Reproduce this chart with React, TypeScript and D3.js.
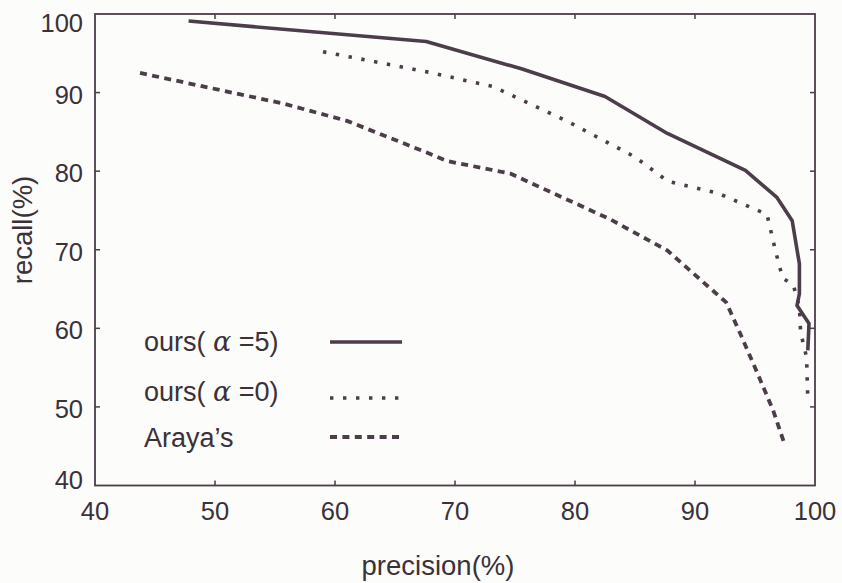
import React from 'react'
import * as d3 from 'd3'

// precision (%), recall (%)
const oursAlpha5 = [
  [47.8, 99.1], [67.6, 96.5], [75.6, 93.0], [82.5, 89.5], [87.7, 84.8],
  [94.2, 80.1], [96.8, 76.7], [98.1, 73.7], [98.7, 68.2], [98.7, 64.4],
  [98.5, 62.9], [99.5, 60.6], [99.4, 57.2],
]
const oursAlpha0 = [
  [59.0, 95.2], [67.8, 92.6], [73.2, 90.75], [79.3, 86.4], [85.0, 81.8],
  [87.75, 78.7], [91.9, 77.2], [96.0, 74.5], [96.7, 69.9], [97.3, 66.4],
  [98.2, 65.5], [98.7, 62.7], [98.8, 59.5], [99.3, 56.3], [99.4, 51.0],
]
const araya = [
  [43.75, 92.5], [55.7, 88.6], [61.0, 86.4], [67.6, 82.4], [69.3, 81.3],
  [74.6, 79.7], [82.9, 73.9], [87.7, 69.9], [92.6, 63.3], [93.75, 59.4],
  [95.2, 54.3], [96.5, 49.6], [97.5, 45.1],
]
const xTicks = [40, 50, 60, 70, 80, 90, 100]
const yTicks = [40, 50, 60, 70, 80, 90, 100]
const legendLabels = ['ours( α =5)', 'ours( α =0)', "Araya’s"]

const W = 842
const H = 583
const ink = '#4b3d4a'
const textInk = '#3a3139'
const font = 'Liberation Sans, Arial, Helvetica, sans-serif'

const App = () => {
  const x = d3.scaleLinear().domain([40, 100]).range([95, 815])
  const y = d3.scaleLinear().domain([40, 100]).range([485.5, 14])

  const line = d3.line<number[]>()
    .x((d) => x(d[0]))
    .y((d) => y(d[1]))

  const styles = [
    { width: 3.6, dash: undefined },
    { width: 3.6, dash: '3.4,9.6' },
    { width: 3.8, dash: '7,5.4' },
  ]
  const series = [oursAlpha5, oursAlpha0, araya]

  const legendRows = [342, 398, 437]
  const legendText = [351, 401, 447]

  // y labels stay inside the frame at the ends
  const yLabelCenter = (t: number) => Math.min(480, Math.max(23, y(t) + 2))

  return (
    <svg width={W} height={H} style={{ position: 'fixed', left: 0, top: 0, background: '#fcfcfa' }}>
      <rect x={0} y={0} width={W} height={H} fill="#fcfcfa" />
      {/* frame */}
      <rect x={x(40)} y={y(100)} width={x(100) - x(40)} height={y(40) - y(100)}
        fill="none" stroke={ink} strokeWidth={1.8} />
      {xTicks.slice(1, -1).map((t) => (
        <g key={`xt${t}`} stroke={ink} strokeWidth={1.5}>
          <line x1={x(t)} x2={x(t)} y1={y(40)} y2={y(40) - 5} />
          <line x1={x(t)} x2={x(t)} y1={y(100)} y2={y(100) + 5} />
        </g>
      ))}
      {yTicks.slice(1, -1).map((t) => (
        <g key={`yt${t}`} stroke={ink} strokeWidth={1.5}>
          <line x1={x(40)} x2={x(40) + 5} y1={y(t)} y2={y(t)} />
          <line x1={x(100)} x2={x(100) - 5} y1={y(t)} y2={y(t)} />
        </g>
      ))}
      {xTicks.map((t) => (
        <text key={`xl${t}`} x={x(t)} y={520} textAnchor="middle"
          fontFamily={font} fontSize={25.5} fill={textInk}>{t}</text>
      ))}
      {yTicks.map((t) => (
        <text key={`yl${t}`} x={83} y={yLabelCenter(t) + 9} textAnchor="end"
          fontFamily={font} fontSize={25.5} fill={textInk}>{t}</text>
      ))}
      <text x={438} y={575} textAnchor="middle" fontFamily={font} fontSize={27.5} fill={textInk}>
        precision(%)
      </text>
      <text transform="translate(32,230) rotate(-90)" textAnchor="middle"
        fontFamily={font} fontSize={27.5} fill={textInk}>
        recall(%)
      </text>
      {series.map((s, i) => (
        <path key={`s${i}`} d={line(s) ?? ''} fill="none" stroke={ink}
          strokeWidth={styles[i].width} strokeDasharray={styles[i].dash}
          strokeLinejoin="round" />
      ))}
      {legendLabels.map((lab, i) => (
        <g key={`lg${i}`}>
          <text x={144} y={legendText[i]} fontFamily={font} fontSize={27} fill={textInk}>
            {lab.split('α').map((part, j) => (j === 0
              ? <tspan key={j}>{part}</tspan>
              : <React.Fragment key={j}><tspan fontStyle="italic" fontFamily="DejaVu Serif, serif">α</tspan><tspan>{part}</tspan></React.Fragment>))}
          </text>
          <line x1={330} x2={402} y1={legendRows[i]} y2={legendRows[i]} stroke={ink}
            strokeWidth={styles[i].width} strokeDasharray={styles[i].dash} />
        </g>
      ))}
    </svg>
  )
}

export default App
